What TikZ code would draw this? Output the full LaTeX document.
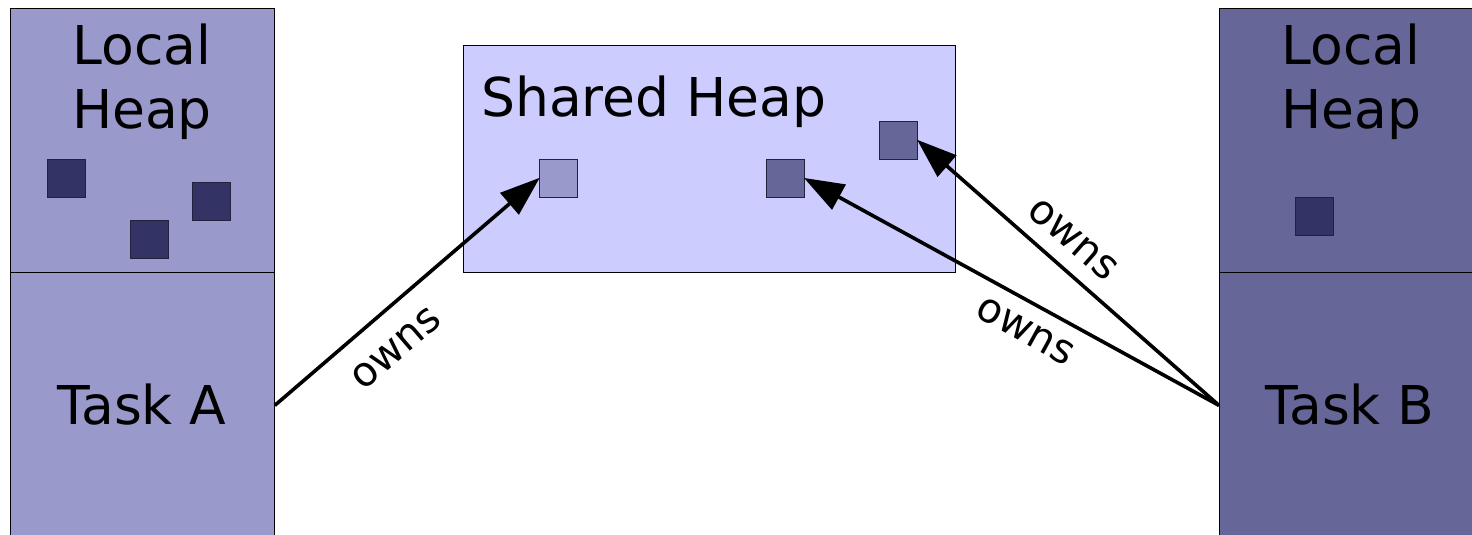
\documentclass[tikz,border=0pt]{standalone}
\usepackage{fontspec}
\setmainfont{DejaVu Sans}
\usetikzlibrary{arrows.meta}
\definecolor{colA}{RGB}{153,153,204}
\definecolor{colB}{RGB}{102,102,153}
\definecolor{colShared}{RGB}{204,204,255}
\definecolor{colDark}{RGB}{51,51,102}
\definecolor{colEdge}{RGB}{34,34,60}
\begin{document}
\begin{tikzpicture}[x=1pt,y=-1pt,
  colbox/.style={draw=black, line width=0.8pt, inner sep=0pt, minimum width=264pt, anchor=north west},
  heapbox/.style={draw=black, line width=0.8pt, inner sep=0pt, fill=colShared, anchor=north west, minimum width=492pt, minimum height=227pt},
  sq/.style={draw=colEdge, line width=0.8pt, inner sep=0pt, minimum size=38pt, anchor=north west},
  bigtext/.style={font=\fontsize{53.5}{63}\selectfont, inner sep=0pt, align=center},
  ownstext/.style={font=\fontsize{41}{46}\selectfont, inner sep=0pt, sloped},
  ownsarrow/.style={line width=3.6pt, -{Triangle[length=40pt,width=28pt]}, shorten >=-1pt}
]
\useasboundingbox (0,0) rectangle (1472,535);
% left column
\node[colbox, fill=colA, minimum height=264pt] (heapA) at (10,8) {};
\node[colbox, fill=colA, minimum height=266pt] (taskA) at (10,272) {};
% right column
\node[colbox, fill=colB, minimum height=264pt] (heapB) at (1219,8) {};
\node[colbox, fill=colB, minimum height=266pt] (taskB) at (1219,272) {};
% shared heap
\node[heapbox] (shared) at (463,45) {};
% texts
\node[bigtext, anchor=base] (lhA) at (142,128) {Local\\Heap};
\node[bigtext, anchor=base] (lhB) at (1351,128) {Local\\Heap};
\node[bigtext, anchor=base] (tA) at (142,424) {Task A};
\node[bigtext, anchor=base] (tB) at (1350,424) {Task B};
\node[bigtext, anchor=base west] (tS) at (481,116) {Shared Heap};
% local squares
\node[sq, fill=colDark] (a1) at (47,159) {};
\node[sq, fill=colDark] (a2) at (130,220) {};
\node[sq, fill=colDark] (a3) at (192,182) {};
\node[sq, fill=colDark] (b1) at (1295,197) {};
% shared squares
\node[sq, fill=colA] (s1) at (539,159) {};
\node[sq, fill=colB] (s2) at (766,159) {};
\node[sq, fill=colB] (s3) at (879,121) {};
% arrows
\draw[ownsarrow] (taskA.east) -- node[ownstext, pos=0.37, yshift=-36pt] {owns} (s1.west);
\draw[ownsarrow] (taskB.west) -- node[ownstext, pos=0.436, yshift=-28pt] {owns} (s2.east);
\draw[ownsarrow] (taskB.west) -- node[ownstext, pos=0.546, yshift=28pt] {owns} (s3.east);
\end{tikzpicture}
\end{document}
